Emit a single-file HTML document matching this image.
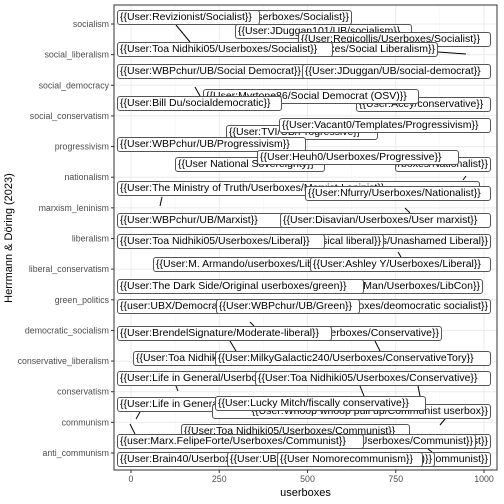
<!DOCTYPE html>
<html><head><meta charset="utf-8">
<style>
body{margin:0;background:#fff;font-family:"Liberation Sans",sans-serif;}
#wrap{position:relative;width:504px;height:504px;overflow:hidden;}
.lb{position:absolute;height:13px;border:1px solid #555;border-radius:3px;background:#fff;font-size:10.5px;line-height:13px;white-space:nowrap;overflow:hidden;color:#000;padding:0 2px;box-sizing:content-box;}
.r{display:flex;justify-content:flex-end;}
</style></head><body>
<div id="wrap">
<svg id="svg" width="504" height="504" style="position:absolute;left:0;top:0"></svg>
</div>
<script>
const categories=["socialism","social_liberalism","social_democracy","social_conservatism","progressivism","nationalism","marxism_leninism","liberalism","liberal_conservatism","green_politics","democratic_socialism","conservative_liberalism","conservatism","communism","anti_communism"];
const xTicks=[0,250,500,750,1000];
const xTickLabels=["0","250","500","750","1000"];
// repelled label layout: text, left, top, right, rightAligned
const labelLayout=[
["{{User:Tkag/Userboxes/Socialist}}",230,10,352,1],
["{{User:JDuggan101/UB/socialism}}",235,24,412,0],
["{{User:Regicollis/Userboxes/Socialist}}",298,32,491,0],
["{{User:Wikimedian/Userboxes/Social Liberalism}}",250,42,438,1],
["{{User:Revizionist/Socialist}}",117,10,260,0],
["{{User:Toa Nidhiki05/Userboxes/Socialist}}",117,42,333,0],
["{{User:WBPchur/UB/Social Democrat}}",117,64,325,0],
["{{User:JDuggan/UB/social-democrat}}",302,64,491,0],
["{{User:Acey/conservative}}",356,97,491,0],
["{{User:Myrtone86/Social Democrat (OSV)}}",203,89,419,0],
["{{User:Bill Du/socialdemocratic}}",117,96,282,0],
["{{User:TVI/UB/Progressive}}",226,125,378,0],
["{{User:Vacant0/Templates/Progressivism}}",279,118,491,0],
["{{User:WBPchur/UB/Progressivism}}",117,137,306,0],
["{{User:Anti/Userboxes/Nationalist}}",395,157,491,1],
["{{User National Sovereignty}}",175,157,325,0],
["{{User:Heuh0/Userboxes/Progressive}}",257,150,459,0],
["{{User:The Ministry of Truth/Userboxes/Marxist-Leninist}}",117,181,480,0],
["{{User:Nfurry/Userboxes/Nationalist}}",305,186,491,0],
["{{User:WBPchur/UB/Marxist}}",117,213,285,0],
["{{User:Disavian/Userboxes/User marxist}}",280,213,491,0],
["{{User:X/Userboxes/Unashamed Liberal}}",330,234,491,1],
["{{User:Y/Userboxes/Classical liberal}}",250,234,384,1],
["{{User:Toa Nidhiki05/Userboxes/Liberal}}",117,234,325,0],
["{{User:M. Armando/userboxes/Liberal}}",153,257,320,0],
["{{User:Ashley Y/Userboxes/Liberal}}",310,257,491,0],
["{{User:Conservative Man/Userboxes/LibCon}}",290,279,483,1],
["{{User:The Dark Side/Original userboxes/green}}",117,279,364,0],
["{{User:Z/Userboxes/deomocratic socialist}}",320,299,491,1],
["{{user:UBX/Democratic socialist}}",117,299,325,0],
["{{User:WBPchur/UB/Green}}",216,299,360,0],
["{{User:Q/Userboxes/Conservative}}",280,326,442,1],
["{{User:BrendelSignature/Moderate-liberal}}",117,326,332,0],
["{{User:Toa Nidhiki05/Userboxes/ConservativeLiberal}}",133,351,330,0],
["{{User:MilkyGalactic240/Userboxes/ConservativeTory}}",215,351,491,0],
["{{User:Life in General/Userboxes/Conservative}}",117,371,300,0],
["{{User:Toa Nidhiki05/Userboxes/Conservative}}",255,371,491,0],
["{{User:Life in General/Userboxes/Communist}}",117,397,270,0],
["{{User:Whoop whoop pull up/Communist userbox}}",212,404,491,1],
["{{User:Lucky Mitch/fiscally conservative}}",215,396,426,0],
["{{User:R/Userboxes/Communist}}",380,434,491,1],
["{{User:Toa Nidhiki05/Userboxes/Communist}}",181,424,410,0],
["{{User:S/Userboxes/Communist}}",300,434,476,1],
["{{user:Marx.FelipeForte/Userboxes/Communist}}",117,434,364,0],
["{{User:T/Userboxes/Anticommunist}}",330,452,491,1],
["{{User:U/Userboxes/Anti (OSV)}}",300,452,435,1],
["{{User:Brain40/Userboxes/Anticommunist}}",117,452,300,0],
["{{User:UBX/Anticommunism}}",227,452,310,0],
["{{User Nomorecommunism}}",277,452,423,0]
];
const segs=[[438,52,466,54],[176,25,190,42],[195,87,200,96],[466,176,463,180],[162,197,160,206],[405,208,410,213],[398,252,401,257],[250,322,254,326],[230,341,236,351],[375,341,380,351],[176,386,178,391],[360,386,364,396],[418,386,420,396],[140,412,136,419],[445,419,440,425],[130,424,135,434],[428,449,432,452]];
const L=114,R=497,T=5,B=470;
const sx=v=>131+v*(484-131)/1000;
const step=(453-24)/(categories.length-1);
const sy=i=>24+i*step;
const NS="http://www.w3.org/2000/svg";
const svg=document.getElementById('svg');
function mk(t,a){const e=document.createElementNS(NS,t);for(const k in a)e.setAttribute(k,a[k]);svg.appendChild(e);return e;}
mk('rect',{x:L,y:T,width:R-L,height:B-T,fill:'#fff'});
for(let i=0;i<xTicks.length-1;i++){const m=(xTicks[i]+xTicks[i+1])/2;
const g=mk('line',{x1:sx(m),x2:sx(m),y1:T,y2:B,stroke:'#f5f5f5','stroke-width':0.6});

}
xTicks.forEach((v,i)=>{
const g=mk('line',{x1:sx(v),x2:sx(v),y1:T,y2:B,stroke:'#ebebeb','stroke-width':1});


mk('line',{x1:sx(v),x2:sx(v),y1:B,y2:B+3,stroke:'#333'});
const t=mk('text',{x:sx(v),y:B+12,'text-anchor':'middle','font-size':8.8,fill:'#4d4d4d','font-family':'Liberation Sans'});
t.textContent=xTickLabels[i];


});
categories.forEach((c,i)=>{
const g=mk('line',{x1:L,x2:R,y1:sy(i),y2:sy(i),stroke:'#ebebeb','stroke-width':1});


mk('line',{x1:L-3,x2:L,y1:sy(i),y2:sy(i),stroke:'#333'});
const t=mk('text',{x:L-5,y:sy(i)+3,'text-anchor':'end','font-size':8.8,fill:'#4d4d4d','font-family':'Liberation Sans'});
t.textContent=c;


});
segs.forEach(s=>{const l=mk('line',{x1:s[0],y1:s[1],x2:s[2],y2:s[3],stroke:'#000','stroke-width':1});

});
const fr=mk('rect',{x:L,y:T,width:R-L,height:B-T,fill:'none',stroke:'#333','stroke-width':1});


const xt=mk('text',{x:(L+R)/2,y:496,'text-anchor':'middle','font-size':11,fill:'#000','font-family':'Liberation Sans'});
xt.textContent='userboxes';


const yt=mk('text',{x:0,y:0,transform:'translate(12,238) rotate(-90)','text-anchor':'middle','font-size':11,fill:'#000','font-family':'Liberation Sans'});
yt.textContent='Herrmann & Döring (2023)';


const wrap=document.getElementById('wrap');
labelLayout.forEach(d=>{
const el=document.createElement('div');
el.className='lb'+(d[4]?' r':'');
el.style.left=d[1]+'px';el.style.top=d[2]+'px';el.style.width=(d[3]-d[1]-6)+'px';
el.textContent=d[0];


wrap.appendChild(el);
});
</script>
</body></html>
